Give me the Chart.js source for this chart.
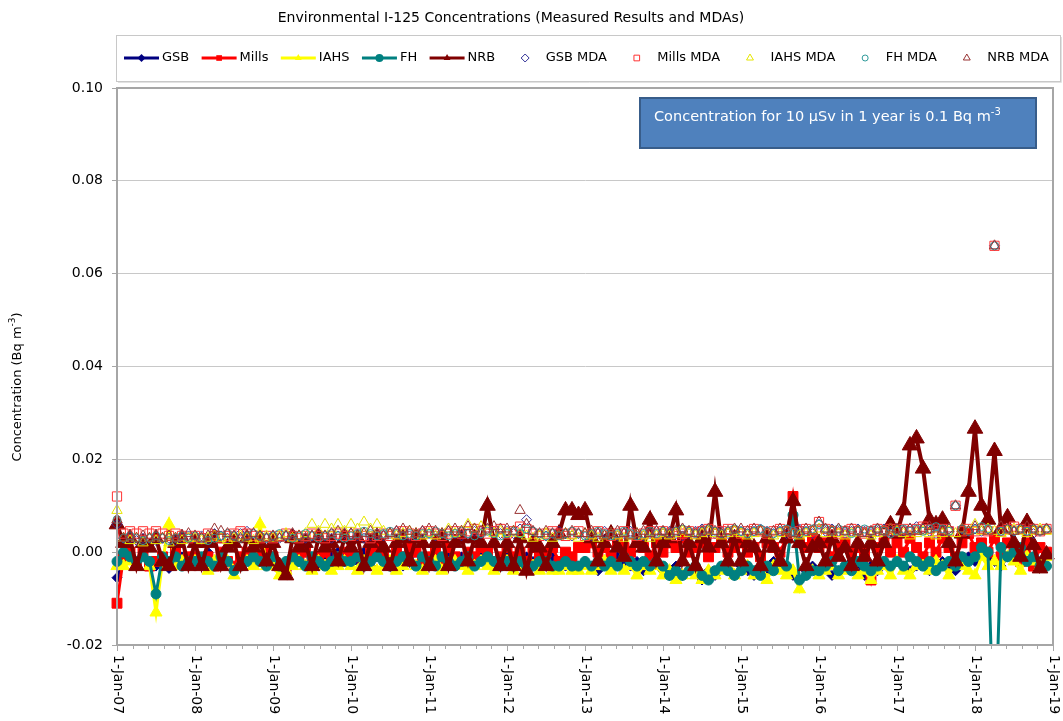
<!DOCTYPE html>
<html><head><meta charset="utf-8">
<script src="https://cdn.jsdelivr.net/npm/chart.js@4.4.1/dist/chart.umd.min.js"></script>
<style>html,body{margin:0;padding:0;background:#fff;}canvas{display:block;}</style>
</head><body>
<canvas id="c" width="1063" height="721"></canvas>
<script>
const chartTitle = "Environmental I-125 Concentrations (Measured Results and MDAs)";
const yTitleMain = "Concentration (Bq m";
const yTitleSup = "-3";
const noteMain = "Concentration for 10 \u00B5Sv in 1 year is 0.1 Bq m";
const noteSup = "-3";
const xTickYears = [2007,2008,2009,2010,2011,2012,2013,2014,2015,2016,2017,2018,2019];
const xTickLabels = ["1-Jan-07","1-Jan-08","1-Jan-09","1-Jan-10","1-Jan-11","1-Jan-12","1-Jan-13","1-Jan-14","1-Jan-15","1-Jan-16","1-Jan-17","1-Jan-18","1-Jan-19"];
const yTickValues = [-0.02,0,0.02,0.04,0.06,0.08,0.10];
const yTickLabels = ["-0.02","0.00","0.02","0.04","0.06","0.08","0.10"];

const sampleDates = [
"2007-01","2007-02","2007-03","2007-04","2007-05","2007-06","2007-07","2007-08","2007-09","2007-10","2007-11","2007-12",
"2008-01","2008-02","2008-03","2008-04","2008-05","2008-06","2008-07","2008-08","2008-09","2008-10","2008-11","2008-12",
"2009-01","2009-02","2009-03","2009-04","2009-05","2009-06","2009-07","2009-08","2009-09","2009-10","2009-11","2009-12",
"2010-01","2010-02","2010-03","2010-04","2010-05","2010-06","2010-07","2010-08","2010-09","2010-10","2010-11","2010-12",
"2011-01","2011-02","2011-03","2011-04","2011-05","2011-06","2011-07","2011-08","2011-09","2011-10","2011-11","2011-12",
"2012-01","2012-02","2012-03","2012-04","2012-05","2012-06","2012-07","2012-08","2012-09","2012-10","2012-11","2012-12",
"2013-01","2013-02","2013-03","2013-04","2013-05","2013-06","2013-07","2013-08","2013-09","2013-10","2013-11","2013-12",
"2014-01","2014-02","2014-03","2014-04","2014-05","2014-06","2014-07","2014-08","2014-09","2014-10","2014-11","2014-12",
"2015-01","2015-02","2015-03","2015-04","2015-05","2015-06","2015-07","2015-08","2015-09","2015-10","2015-11","2015-12",
"2016-01","2016-02","2016-03","2016-04","2016-05","2016-06","2016-07","2016-08","2016-09","2016-10","2016-11","2016-12",
"2017-01","2017-02","2017-03","2017-04","2017-05","2017-06","2017-07","2017-08","2017-09","2017-10","2017-11","2017-12",
"2018-01","2018-02","2018-03","2018-04","2018-05","2018-06","2018-07","2018-08","2018-09","2018-10","2018-11","2018-12"
];

const gsb = [
-0.0055,-0.002,-0.001,-0.002,0,-0.002,-0.003,-0.001,-0.0035,-0.002,-0.001,-0.002,
-0.001,-0.002,0,-0.003,-0.001,-0.002,-0.004,-0.002,-0.001,0,-0.002,-0.001,
-0.002,-0.003,-0.004,-0.001,-0.002,0,-0.001,-0.003,-0.002,-0.001,0,-0.002,
-0.001,-0.002,0,-0.003,-0.001,0,-0.002,-0.001,-0.003,-0.001,0,-0.002,
-0.002,-0.001,-0.003,0,-0.002,-0.001,-0.003,-0.002,-0.001,0,-0.002,-0.003,
-0.001,-0.002,-0.003,-0.001,-0.002,-0.003,-0.002,-0.001,-0.002,-0.003,-0.002,-0.003,
-0.002,-0.003,-0.004,-0.002,-0.003,-0.001,-0.002,-0.003,-0.002,-0.004,-0.003,-0.002,
-0.004,-0.005,-0.003,-0.005,-0.004,-0.003,-0.006,-0.004,-0.005,-0.003,-0.004,-0.005,
-0.003,-0.004,-0.005,-0.003,-0.004,-0.002,-0.003,-0.004,-0.005,-0.006,-0.004,-0.003,
-0.004,-0.003,-0.005,-0.004,-0.003,-0.002,-0.004,-0.005,-0.003,-0.004,-0.002,-0.003,
-0.002,-0.003,-0.004,-0.003,-0.002,-0.004,-0.003,-0.002,-0.003,-0.004,-0.002,-0.001,
-0.002,0,-0.001,-0.002,-0.003,-0.001,0,-0.002,-0.001,-0.003,-0.002,0
];
const mills = [
-0.011,-0.001,0,-0.002,0,-0.003,-0.002,-0.001,-0.002,0,-0.002,-0.001,
-0.001,-0.002,-0.001,-0.003,0,-0.002,-0.003,-0.001,0,-0.002,-0.001,0,
-0.001,-0.003,-0.004,-0.002,-0.001,0,-0.002,-0.001,0,-0.002,-0.001,0,
0,-0.001,-0.002,0,0.001,-0.001,-0.002,0,-0.001,0.001,0,-0.002,
-0.001,0,-0.002,0.001,-0.001,-0.002,0,-0.001,0.001,0,-0.002,-0.001,
0.001,-0.001,0,-0.002,0.001,-0.001,0,0.001,-0.002,0,-0.001,0.001,
0.001,0.002,0,0.001,-0.001,0.002,0.001,0,0.002,0.001,-0.001,0.002,
0,0.002,0.001,0.003,0,0.001,0.002,-0.001,0.001,0.002,0,0.001,
0.002,0,0.001,-0.001,0.002,0.001,0,0.003,0.012,0.002,0.001,0.003,
0.001,0.002,-0.001,0.001,0.002,0,0.001,0,-0.006,0.001,0.002,0,
0.002,0,0.003,0.001,-0.001,0.002,0,0.003,0.001,-0.001,0.002,0.004,
0.001,0.002,0,0.003,-0.001,0.002,0.001,-0.002,0.002,-0.003,0.001,0
];
const iahs = [
-0.003,-0.003,-0.002,-0.003,-0.001,-0.003,-0.013,-0.002,0.006,-0.003,-0.002,-0.003,
-0.002,-0.003,-0.004,-0.002,-0.003,-0.002,-0.005,-0.003,-0.002,-0.003,0.006,-0.003,
-0.003,-0.005,-0.004,-0.003,-0.002,-0.003,-0.004,-0.002,-0.003,-0.004,-0.003,-0.002,
-0.003,-0.004,-0.002,-0.003,-0.004,-0.003,-0.002,-0.004,-0.003,-0.002,-0.003,-0.004,
-0.003,-0.002,-0.004,-0.003,-0.002,-0.003,-0.004,-0.003,-0.002,-0.003,-0.004,-0.003,
-0.002,-0.004,-0.003,-0.004,-0.003,-0.004,-0.003,-0.004,-0.004,-0.003,-0.004,-0.004,
-0.003,-0.004,-0.003,-0.002,-0.004,-0.003,-0.004,-0.003,-0.005,-0.003,-0.004,-0.003,
-0.005,-0.004,-0.006,-0.005,-0.004,-0.005,-0.006,-0.004,-0.005,-0.004,-0.003,-0.005,
-0.004,-0.003,-0.005,-0.004,-0.006,-0.003,-0.004,-0.005,-0.004,-0.008,-0.003,-0.004,
-0.005,-0.004,-0.003,-0.005,-0.004,-0.003,-0.005,-0.004,-0.006,-0.004,-0.003,-0.005,
-0.002,-0.004,-0.005,-0.003,-0.003,-0.004,-0.002,-0.003,-0.005,-0.002,-0.003,-0.004,
-0.005,-0.001,-0.003,-0.002,-0.003,-0.001,-0.002,-0.004,-0.001,-0.002,-0.003,-0.001
];
const fh = [
-0.002,0,-0.001,-0.002,-0.001,-0.002,-0.009,-0.001,-0.002,-0.001,-0.003,-0.002,
-0.002,-0.001,-0.002,-0.003,-0.001,-0.002,-0.004,-0.003,-0.002,-0.001,-0.002,-0.003,
-0.001,-0.003,-0.002,-0.001,-0.002,-0.003,-0.001,-0.002,-0.003,-0.002,-0.001,-0.002,
-0.002,-0.001,-0.003,-0.002,-0.001,-0.002,-0.003,-0.002,-0.001,-0.002,-0.003,-0.001,
-0.002,-0.003,-0.001,-0.002,-0.003,-0.002,-0.001,-0.003,-0.002,-0.001,-0.002,-0.003,
-0.002,-0.003,-0.002,-0.003,-0.003,-0.002,-0.002,-0.003,-0.003,-0.002,-0.003,-0.003,
-0.002,-0.003,-0.002,-0.003,-0.002,-0.003,-0.001,-0.002,-0.003,-0.002,-0.003,-0.002,
-0.003,-0.005,-0.004,-0.005,-0.004,-0.003,-0.005,-0.006,-0.004,-0.003,-0.004,-0.005,
-0.004,-0.003,-0.004,-0.005,-0.003,-0.004,-0.002,-0.003,0.008,-0.006,-0.005,-0.004,
-0.004,-0.003,-0.002,-0.004,-0.003,-0.004,-0.002,-0.003,-0.004,-0.003,-0.002,-0.003,
-0.002,-0.003,-0.001,-0.002,-0.003,-0.002,-0.004,-0.003,-0.002,-0.003,-0.001,-0.002,
-0.001,0.001,0,-0.045,0.001,-0.001,0,0.001,-0.002,-0.001,-0.003,-0.003
];
const nrb = [
0.006,0.002,0.003,-0.003,0.002,0.001,0.003,-0.002,-0.003,0.002,0.003,-0.003,
0.002,-0.003,0.002,0.003,-0.003,0.001,0.002,-0.003,0.003,0.001,0.002,-0.002,
0.002,-0.003,-0.005,0.003,0.001,0.002,-0.003,0.003,0.001,0.002,-0.002,0.003,
0.001,0.003,-0.003,0.002,0.003,0.001,-0.003,0.002,0.003,-0.002,0.003,0.002,
-0.003,0.002,0.003,-0.003,0.002,0.003,-0.002,0.003,0.002,0.010,0.002,-0.003,
0.002,-0.003,0.003,-0.004,0.002,0.001,-0.003,0.002,0.004,0.009,0.009,0.008,
0.009,0.003,-0.002,0.002,0.004,0.001,-0.001,0.010,0.002,0.001,0.007,-0.002,
0.002,0.003,0.009,-0.002,0.002,-0.003,0.003,0.001,0.013,0.002,-0.002,0.003,
-0.002,0.002,0.001,-0.003,0.003,0.001,-0.002,0.003,0.011,0.002,-0.003,0.001,
0.002,-0.002,0.003,-0.001,0.001,-0.003,0.002,-0.001,0.002,-0.002,0.002,0.006,
0.004,0.009,0.023,0.0245,0.018,0.007,0.006,0.007,0.002,-0.002,0.004,0.013,
0.0266,0.010,0.007,0.0218,0.005,0.0075,0.002,-0.001,0.0065,0.0015,-0.0035,-0.0005
];
const gsbMda = [
0.006,0.003,0.003,0.0025,0.003,0.003,0.0025,0.003,0.003,0.0025,0.003,0.0035,
0.003,0.0035,0.003,0.004,0.0035,0.003,0.0035,0.004,0.0045,0.004,0.0035,0.003,
0.0035,0.003,0.0035,0.004,0.0035,0.003,0.0035,0.004,0.0035,0.003,0.0035,0.004,
0.004,0.0035,0.003,0.0035,0.004,0.0035,0.004,0.0045,0.004,0.0035,0.004,0.0045,
0.004,0.0035,0.004,0.0045,0.004,0.0035,0.004,0.0045,0.004,0.005,0.0045,0.004,
0.0045,0.004,0.005,0.007,0.0045,0.004,0.0035,0.004,0.0045,0.004,0.0035,0.004,
0.004,0.0035,0.004,0.0045,0.004,0.0035,0.004,0.0045,0.004,0.0035,0.004,0.0045,
0.004,0.0045,0.004,0.0035,0.004,0.0045,0.005,0.0045,0.004,0.0045,0.004,0.0045,
0.0045,0.004,0.0045,0.005,0.0045,0.004,0.0045,0.004,0.0045,0.005,0.0045,0.004,
0.006,0.0045,0.005,0.0045,0.004,0.0045,0.005,0.0045,0.004,0.0045,0.005,0.0045,
0.005,0.0045,0.005,0.0055,0.005,0.0045,0.004,0.0045,0.005,0.010,0.005,0.0045,
0.005,0.0045,0.005,0.066,0.0045,0.005,0.0045,0.005,0.0045,0.004,0.0045,0.005
];
const millsMda = [
0.012,0.004,0.0045,0.004,0.0045,0.004,0.0045,0.004,0.0035,0.004,0.0035,0.003,
0.0035,0.003,0.004,0.0035,0.003,0.0035,0.004,0.0045,0.004,0.0035,0.003,0.0035,
0.003,0.0035,0.004,0.0035,0.003,0.0035,0.004,0.0035,0.003,0.0035,0.004,0.0035,
0.0035,0.004,0.0035,0.003,0.0035,0.004,0.0035,0.004,0.0045,0.004,0.0035,0.004,
0.0045,0.004,0.0035,0.004,0.0045,0.004,0.0045,0.005,0.0045,0.004,0.0045,0.005,
0.004,0.0045,0.0055,0.005,0.004,0.0035,0.004,0.0045,0.004,0.0035,0.004,0.0045,
0.0035,0.004,0.0045,0.004,0.0035,0.004,0.0045,0.004,0.0035,0.004,0.0045,0.004,
0.0045,0.004,0.0035,0.004,0.0045,0.004,0.0045,0.005,0.004,0.0045,0.005,0.0045,
0.004,0.0045,0.005,0.0045,0.004,0.0045,0.005,0.0045,0.004,0.0045,0.005,0.0045,
0.0065,0.005,0.0045,0.004,0.0045,0.005,0.0045,0.004,0.0045,0.005,0.0045,0.005,
0.0045,0.005,0.0045,0.005,0.0055,0.005,0.0045,0.005,0.0045,0.010,0.0045,0.005,
0.0045,0.005,0.0045,0.066,0.0045,0.005,0.0055,0.005,0.0045,0.005,0.0045,0.005
];
const iahsMda = [
0.009,0.003,0.0025,0.003,0.002,0.003,0.0025,0.003,0.002,0.003,0.0025,0.003,
0.003,0.0025,0.003,0.0035,0.003,0.0025,0.003,0.0035,0.003,0.0025,0.003,0.0035,
0.003,0.0035,0.004,0.003,0.0035,0.004,0.006,0.0045,0.006,0.005,0.006,0.0045,
0.006,0.005,0.0065,0.005,0.006,0.0045,0.004,0.0035,0.004,0.0045,0.004,0.0035,
0.004,0.0035,0.004,0.005,0.004,0.0045,0.006,0.005,0.0055,0.0045,0.004,0.0045,
0.004,0.0045,0.004,0.0035,0.003,0.0035,0.004,0.003,0.0035,0.004,0.0035,0.003,
0.004,0.0035,0.003,0.0035,0.004,0.0035,0.003,0.0035,0.004,0.0035,0.003,0.0035,
0.004,0.0035,0.004,0.0045,0.004,0.0035,0.004,0.0045,0.004,0.0035,0.004,0.0045,
0.004,0.0035,0.004,0.0045,0.004,0.0035,0.004,0.0045,0.004,0.0035,0.004,0.0045,
0.005,0.004,0.0045,0.004,0.0035,0.004,0.0045,0.004,0.0035,0.004,0.0045,0.005,
0.0045,0.004,0.0035,0.004,0.0045,0.004,0.0035,0.004,0.0045,0.004,0.005,0.0045,
0.006,0.0045,0.005,0.0045,0.004,0.0045,0.005,0.0045,0.004,0.0045,0.005,0.0045
];
const fhMda = [
0.007,0.003,0.0035,0.003,0.0025,0.003,0.0035,0.003,0.0025,0.003,0.0035,0.003,
0.0035,0.003,0.0025,0.003,0.0035,0.004,0.0035,0.003,0.0035,0.004,0.0035,0.003,
0.0035,0.004,0.0035,0.003,0.0035,0.004,0.0035,0.003,0.0035,0.004,0.0035,0.003,
0.0035,0.004,0.0045,0.004,0.0035,0.004,0.0045,0.004,0.0035,0.004,0.0035,0.004,
0.004,0.0045,0.004,0.0035,0.004,0.0045,0.004,0.0035,0.004,0.0045,0.004,0.0035,
0.004,0.0045,0.004,0.005,0.0045,0.004,0.0035,0.004,0.0035,0.004,0.0045,0.004,
0.0035,0.004,0.0045,0.004,0.0035,0.004,0.0045,0.004,0.0035,0.004,0.0045,0.004,
0.0045,0.004,0.0045,0.005,0.0045,0.004,0.0045,0.005,0.0045,0.004,0.0045,0.005,
0.0045,0.004,0.0045,0.005,0.0045,0.004,0.0045,0.005,0.0045,0.004,0.0045,0.005,
0.006,0.005,0.0045,0.005,0.0045,0.004,0.0045,0.005,0.0045,0.005,0.0045,0.004,
0.0045,0.005,0.0045,0.005,0.0045,0.005,0.0055,0.005,0.0045,0.010,0.005,0.0045,
0.005,0.0055,0.005,0.066,0.0045,0.005,0.0045,0.005,0.0045,0.005,0.0045,0.005
];
const nrbMda = [
0.007,0.003,0.0035,0.003,0.0035,0.003,0.0035,0.003,0.0035,0.003,0.0035,0.004,
0.0035,0.003,0.0035,0.005,0.0045,0.004,0.0035,0.003,0.0035,0.004,0.0035,0.003,
0.0035,0.003,0.0035,0.004,0.0035,0.003,0.0035,0.004,0.0035,0.004,0.0045,0.004,
0.004,0.0035,0.004,0.0045,0.004,0.0035,0.004,0.0045,0.005,0.0045,0.004,0.0045,
0.005,0.0045,0.004,0.0045,0.005,0.0045,0.0055,0.005,0.0045,0.005,0.0055,0.005,
0.005,0.0045,0.009,0.006,0.0045,0.004,0.0045,0.004,0.0035,0.004,0.0045,0.004,
0.004,0.0045,0.004,0.0035,0.004,0.0045,0.004,0.0035,0.004,0.0045,0.004,0.0045,
0.0045,0.004,0.0045,0.005,0.0045,0.004,0.0045,0.005,0.0045,0.004,0.0045,0.005,
0.005,0.0045,0.005,0.0045,0.004,0.0045,0.005,0.0045,0.004,0.0045,0.005,0.0045,
0.0065,0.005,0.0045,0.005,0.0045,0.005,0.0045,0.004,0.0045,0.005,0.0045,0.005,
0.005,0.0045,0.005,0.0045,0.005,0.0055,0.005,0.0045,0.005,0.010,0.005,0.0045,
0.0055,0.005,0.0045,0.066,0.0055,0.005,0.0045,0.005,0.0055,0.005,0.0045,0.005
];

const FONT = "'DejaVu Sans', sans-serif";
const seriesDefs = [
  {label:'GSB', values:gsb, color:'#000080', style:'rectRot', r:5, mda:false, lw:3},
  {label:'Mills', values:mills, color:'#FF0000', style:'rect', r:7, mda:false, lw:3},
  {label:'IAHS', values:iahs, color:'#FFFF00', style:'triangle', r:7, mda:false, lw:3},
  {label:'FH', values:fh, color:'#008080', style:'circle', r:5, mda:false, lw:3},
  {label:'NRB', values:nrb, color:'#800000', style:'triangle', r:9, mda:false, lw:4},
  {label:'GSB MDA', values:gsbMda, color:'#333399', style:'rectRot', r:5, mda:true, lw:1},
  {label:'Mills MDA', values:millsMda, color:'#FF3333', style:'rect', r:6.5, mda:true, lw:1},
  {label:'IAHS MDA', values:iahsMda, color:'#E6E600', style:'triangle', r:6, mda:true, lw:1},
  {label:'FH MDA', values:fhMda, color:'#2E9A9A', style:'circle', r:4, mda:true, lw:1},
  {label:'NRB MDA', values:nrbMda, color:'#993333', style:'triangle', r:6, mda:true, lw:1}
];
function toYear(d){ const p = d.split('-').map(Number); return p[0] + (p[1]-1)/12; }

const datasets = seriesDefs.map((s, i) => ({
  label: s.label,
  data: sampleDates.map((d, k) => ({x: toYear(d), y: s.values[k]})),
  showLine: !s.mda,
  borderColor: s.color,
  backgroundColor: s.color,
  borderWidth: s.lw,
  pointStyle: s.style,
  pointRadius: s.r,
  pointBorderWidth: 1,
  pointBorderColor: s.color,
  pointBackgroundColor: s.mda ? 'rgba(0,0,0,0)' : s.color,
  tension: 0,
  order: 20 - i,
  clip: {left: 10, right: 10, top: 10, bottom: 0}
}));

function markerPath(ctx, style, x, y, r){
  ctx.beginPath();
  if (style === 'circle') ctx.arc(x, y, r, 0, Math.PI*2);
  else if (style === 'rect') { const s = r*Math.SQRT1_2; ctx.rect(x-s, y-s, 2*s, 2*s); }
  else if (style === 'rectRot') { ctx.moveTo(x, y-r); ctx.lineTo(x+r, y); ctx.lineTo(x, y+r); ctx.lineTo(x-r, y); ctx.closePath(); }
  else if (style === 'triangle') {
    for (let k = 0; k < 3; k++) { const a = k*2*Math.PI/3; const px = x + Math.sin(a)*r, py = y - Math.cos(a)*r; if (k===0) ctx.moveTo(px,py); else ctx.lineTo(px,py); }
    ctx.closePath();
  }
}

const decor = {
  id: 'decor',
  afterDraw(chart){
    const {ctx, chartArea: a, scales: {x}} = chart;
    ctx.save();
    ctx.strokeStyle = '#A6A6A6'; ctx.lineWidth = 2;
    ctx.strokeRect(a.left, a.top, a.right - a.left, a.bottom - a.top);
    ctx.lineWidth = 1; ctx.strokeStyle = '#A6A6A6';
    for (let t = xTickYears[0]; t <= xTickYears[xTickYears.length-1] + 1e-6; t += 0.2) {
      const px = Math.round(x.getPixelForValue(t)) + 0.5;
      const major = Math.abs(t - Math.round(t)) < 1e-6;
      ctx.beginPath(); ctx.moveTo(px, a.bottom); ctx.lineTo(px, a.bottom + (major ? 6 : 4)); ctx.stroke();
    }
    ctx.fillStyle = '#000'; ctx.font = '14px ' + FONT;
    ctx.textAlign = 'left'; ctx.textBaseline = 'middle';
    xTickYears.forEach((yr, i) => {
      const px = x.getPixelForValue(yr);
      ctx.save(); ctx.translate(px + 1, a.bottom + 10); ctx.rotate(Math.PI/2);
      ctx.fillText(xTickLabels[i], 0, 0); ctx.restore();
    });
    ctx.font = '14px ' + FONT; ctx.textAlign = 'center'; ctx.textBaseline = 'middle';
    ctx.fillText(chartTitle, 511, 18);
    ctx.save();
    ctx.translate(18, 387); ctx.rotate(-Math.PI/2);
    ctx.textAlign = 'left'; ctx.textBaseline = 'middle';
    ctx.font = '13px ' + FONT; const w1 = ctx.measureText(yTitleMain).width; const w3 = ctx.measureText(')').width;
    ctx.font = '9px ' + FONT; const w2 = ctx.measureText(yTitleSup).width;
    const sx = -(w1 + w2 + w3)/2;
    ctx.font = '13px ' + FONT; ctx.fillText(yTitleMain, sx, 0);
    ctx.font = '9px ' + FONT; ctx.fillText(yTitleSup, sx + w1, -5);
    ctx.font = '13px ' + FONT; ctx.fillText(')', sx + w1 + w2, 0);
    ctx.restore();
    const lgTop = 35, lgBottom = 81, lgLeft = 116, lgRight = 1060;
    ctx.fillStyle = '#fff'; ctx.fillRect(lgLeft, lgTop, lgRight - lgLeft, lgBottom - lgTop);
    ctx.strokeStyle = '#C8C8C8'; ctx.lineWidth = 1;
    ctx.strokeRect(lgLeft + 0.5, lgTop + 0.5, lgRight - lgLeft, lgBottom - lgTop);
    ctx.strokeStyle = '#E2E2E2';
    ctx.beginPath(); ctx.moveTo(lgLeft + 2, lgBottom + 1.5); ctx.lineTo(lgRight + 1.5, lgBottom + 1.5); ctx.lineTo(lgRight + 1.5, lgTop + 2); ctx.stroke();
    ctx.font = '13px ' + FONT; ctx.textAlign = 'left'; ctx.textBaseline = 'middle';
    const boxW = 35, tGap = 3, startX = 124, endX = 1049, ly = 58;
    const widths = seriesDefs.map(s => ctx.measureText(s.label).width);
    const sumW = widths.reduce((p, c) => p + c, 0);
    const gap = (endX - startX - seriesDefs.length*(boxW + tGap) - sumW) / (seriesDefs.length - 1);
    let cx = startX;
    seriesDefs.forEach((s, i) => {
      if (!s.mda) {
        ctx.strokeStyle = s.color; ctx.lineWidth = 3;
        ctx.beginPath(); ctx.moveTo(cx, ly); ctx.lineTo(cx + boxW, ly); ctx.stroke();
        markerPath(ctx, s.style, cx + boxW/2, ly, 4);
        ctx.fillStyle = s.color; ctx.fill();
      } else {
        markerPath(ctx, s.style, cx + boxW/2, ly, s.style === 'circle' ? 3 : 4);
        ctx.strokeStyle = s.color; ctx.lineWidth = 1; ctx.stroke();
      }
      ctx.fillStyle = '#000';
      ctx.fillText(s.label, cx + boxW + tGap, ly);
      cx += boxW + tGap + widths[i] + gap;
    });
    const bx = 640, by = 98, bw = 396, bh = 50;
    ctx.fillStyle = '#4F81BD'; ctx.fillRect(bx, by, bw, bh);
    ctx.strokeStyle = '#385D8A'; ctx.lineWidth = 2; ctx.strokeRect(bx, by, bw, bh);
    ctx.fillStyle = '#fff'; ctx.textAlign = 'left'; ctx.textBaseline = 'middle';
    ctx.font = '14.5px ' + FONT; ctx.fillText(noteMain, 654, 117);
    const nw = ctx.measureText(noteMain).width;
    ctx.font = '10px ' + FONT; ctx.fillText(noteSup, 654 + nw, 112);
    ctx.restore();
  }
};

new Chart(document.getElementById('c'), {
  type: 'line',
  data: { datasets },
  plugins: [decor],
  options: {
    responsive: false,
    animation: false,
    devicePixelRatio: 1,
    layout: { padding: { top: 88, right: 7, bottom: 76, left: 0 } },
    plugins: { legend: { display: false }, title: { display: false }, tooltip: { enabled: false } },
    scales: {
      x: {
        type: 'linear', min: xTickYears[0], max: xTickYears[xTickYears.length-1],
        afterFit(s){ s.height = 0; },
        ticks: { display: false },
        grid: { display: false, drawTicks: false },
        border: { display: true, color: '#A6A6A6', width: 2 }
      },
      y: {
        min: yTickValues[0], max: yTickValues[yTickValues.length-1],
        afterFit(s){ s.width = 117; },
        afterBuildTicks(s){ s.ticks = yTickValues.map(v => ({value: v})); },
        ticks: {
          font: { family: FONT, size: 14 }, color: '#000', padding: 9,
          callback: (v) => { const i = yTickValues.findIndex(t => Math.abs(t - v) < 1e-9); return i >= 0 ? yTickLabels[i] : ''; }
        },
        grid: { color: '#C8C8C8', lineWidth: 1, tickLength: 5, tickColor: '#A6A6A6' },
        border: { display: true, color: '#A6A6A6', width: 2 }
      }
    }
  }
});
</script>
</body></html>
